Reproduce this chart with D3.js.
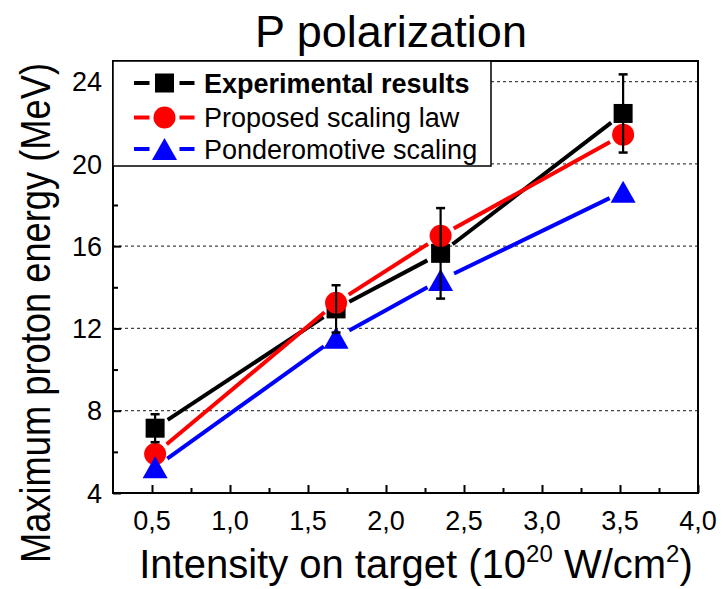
<html>
<head>
<style>
	body { margin: 0; background: #fff; }
	text { font-family: "Liberation Sans", Arial, Helvetica, sans-serif; fill: #000; }
</style>
<script src="https://d3js.org/d3.v7.min.js"></script>
</head>
<body>
<svg id="chart"></svg>
<script>
	var width = 723;
	var height = 589;

	// data
	var intensity = [0.52, 1.68, 2.35, 3.52];
	var experimental = [7.15, 12.95, 15.65, 22.45];
	var experimentalError = [0.68, 1.15, 2.2, 1.9];
	var proposed = [5.9, 13.25, 16.5, 21.42];
	var ponderomotive = [5.25, 11.55, 14.35, 18.65];

	var seriesNames = ["Experimental results", "Proposed scaling law", "Ponderomotive scaling"];
	var xTickValues = [0.5, 1.0, 1.5, 2.0, 2.5, 3.0, 3.5, 4.0];
	var xMinorValues = [0.75, 1.25, 1.75, 2.25, 2.75, 3.25, 3.75];
	var yTickValues = [4, 8, 12, 16, 20, 24];
	var yMinorValues = [6, 10, 14, 18, 22];
	var gridValues = [8, 12, 16, 20, 24];

	var plot = {left: 113, right: 698, top: 61, bottom: 493};
	var gap = 15; // Origin style gap between line and marker

	var x = d3.scaleLinear().domain([0.25, 4.0]).range([plot.left, plot.right]);
	var y = d3.scaleLinear().domain([4, 25]).range([plot.bottom, plot.top]);

	var svg = d3.select("#chart").attr("width", width).attr("height", height);

	// grid
	svg.append("g").selectAll("line")
		.data(gridValues)
		.enter().append("line")
			.attr("x1", plot.left).attr("x2", plot.right)
			.attr("y1", function(d) { return y(d); })
			.attr("y2", function(d) { return y(d); })
			.attr("stroke", "#444")
			.attr("stroke-width", 1.3)
			.attr("stroke-dasharray", "3,3");

	// axes, ticks pointing inward
	var xAxis = d3.axisTop(x).tickValues(xTickValues).tickSize(8).tickFormat("");
	var xMinor = d3.axisTop(x).tickValues(xMinorValues).tickSize(5).tickFormat("");
	var yAxis = d3.axisRight(y).tickValues(yTickValues).tickSize(8).tickFormat("");
	var yMinor = d3.axisRight(y).tickValues(yMinorValues).tickSize(5).tickFormat("");

	[[xAxis, "translate(0," + plot.bottom + ")"], [xMinor, "translate(0," + plot.bottom + ")"],
	 [yAxis, "translate(" + plot.left + ",0)"], [yMinor, "translate(" + plot.left + ",0)"]].forEach(function(a) {
		var g = svg.append("g").attr("transform", a[1]).call(a[0]);
		g.select(".domain").remove();
		g.selectAll("line").attr("stroke", "#000").attr("stroke-width", 2);
	});

	svg.append("rect")
		.attr("x", plot.left).attr("y", plot.top)
		.attr("width", plot.right - plot.left).attr("height", plot.bottom - plot.top)
		.attr("fill", "none").attr("stroke", "#000").attr("stroke-width", 2);

	// tick labels
	svg.append("g").selectAll("text")
		.data(xTickValues)
		.enter().append("text")
			.attr("x", function(d) { return x(d); })
			.attr("y", 530)
			.attr("text-anchor", "middle")
			.style("font-size", "27px")
			.text(function(d) { return d3.format(".1f")(d).replace(".", ","); });

	svg.append("g").selectAll("text")
		.data(yTickValues)
		.enter().append("text")
			.attr("x", 102)
			.attr("y", function(d) { return y(d); })
			.attr("dy", "0.36em")
			.attr("text-anchor", "end")
			.style("font-size", "27px")
			.text(function(d) { return d; });

	// titles
	svg.append("text")
		.attr("x", 391).attr("y", 47)
		.attr("text-anchor", "middle")
		.style("font-size", "45px")
		.text("P polarization");

	var xTitle = svg.append("text")
		.attr("x", 416).attr("y", 578)
		.attr("text-anchor", "middle")
		.style("font-size", "40px");
	xTitle.append("tspan").text("Intensity on target (10");
	xTitle.append("tspan").attr("dy", -16).style("font-size", "24px").text("20");
	xTitle.append("tspan").attr("dy", 16).text(" W/cm");
	xTitle.append("tspan").attr("dy", -16).style("font-size", "24px").text("2");
	xTitle.append("tspan").attr("dy", 16).text(")");

	// condensed like the reference: 42px glyphs squeezed to ~500px long
	svg.append("text")
		.attr("transform", "translate(50,313) rotate(-90) scale(0.864,1)")
		.attr("text-anchor", "middle")
		.style("font-size", "42px")
		.text("Maximum proton energy (MeV)");

	// lines with gaps around markers
	function segments(values) {
		var out = [];
		for (var i = 0; i < values.length - 1; i++) {
			var x1 = x(intensity[i]), y1 = y(values[i]);
			var x2 = x(intensity[i + 1]), y2 = y(values[i + 1]);
			var len = Math.sqrt((x2 - x1) * (x2 - x1) + (y2 - y1) * (y2 - y1));
			var ux = (x2 - x1) / len, uy = (y2 - y1) / len;
			out.push([x1 + ux * gap, y1 + uy * gap, x2 - ux * gap, y2 - uy * gap]);
		}
		return out;
	}

	function drawLine(values, color) {
		svg.append("g").selectAll("line")
			.data(segments(values))
			.enter().append("line")
				.attr("x1", function(d) { return d[0]; })
				.attr("y1", function(d) { return d[1]; })
				.attr("x2", function(d) { return d[2]; })
				.attr("y2", function(d) { return d[3]; })
				.attr("stroke", color)
				.attr("stroke-width", 4);
	}

	drawLine(experimental, "#000");
	drawLine(proposed, "#f00");
	drawLine(ponderomotive, "#00f");

	function square(g, cx, cy) {
		g.append("rect").attr("x", cx - 9.5).attr("y", cy - 9.5).attr("width", 19).attr("height", 19).attr("fill", "#000");
	}
	function circle(g, cx, cy) {
		g.append("circle").attr("cx", cx).attr("cy", cy).attr("r", 11).attr("fill", "#f00");
	}
	function triangle(g, cx, cy) {
		g.append("path")
			.attr("d", "M" + cx + "," + (cy - 11) + "L" + (cx + 12.5) + "," + (cy + 11) + "L" + (cx - 12.5) + "," + (cy + 11) + "Z")
			.attr("fill", "#00f");
	}

	var markers = svg.append("g");
	intensity.forEach(function(d, i) { square(markers, x(d), y(experimental[i])); });
	intensity.forEach(function(d, i) { circle(markers, x(d), y(proposed[i])); });
	intensity.forEach(function(d, i) { triangle(markers, x(d), y(ponderomotive[i])); });

	// error bars
	var bars = svg.append("g").attr("stroke", "#000").attr("stroke-width", 2.2);
	intensity.forEach(function(d, i) {
		var cx = x(d);
		var top = y(experimental[i] + experimentalError[i]);
		var bottom = y(experimental[i] - experimentalError[i]);
		bars.append("line").attr("x1", cx).attr("x2", cx).attr("y1", top).attr("y2", bottom);
		bars.append("line").attr("x1", cx - 4.5).attr("x2", cx + 4.5).attr("y1", top).attr("y2", top).attr("stroke-width", 2.5);
		bars.append("line").attr("x1", cx - 4.5).attr("x2", cx + 4.5).attr("y1", bottom).attr("y2", bottom).attr("stroke-width", 2.5);
	});

	// legend
	var legend = svg.append("g");
	legend.append("rect")
		.attr("x", plot.left).attr("y", plot.top)
		.attr("width", 378).attr("height", 105)
		.attr("fill", "#fff").attr("stroke", "#000").attr("stroke-width", 1.5);

	var legendColors = ["#000", "#f00", "#00f"];
	var legendRows = [83, 117.5, 149];
	var legendMarkers = [square, circle, triangle];
	seriesNames.forEach(function(name, i) {
		var ly = legendRows[i];
		legend.append("line").attr("x1", 134).attr("x2", 149.5).attr("y1", ly).attr("y2", ly)
			.attr("stroke", legendColors[i]).attr("stroke-width", 4);
		legend.append("line").attr("x1", 179.5).attr("x2", 194.5).attr("y1", ly).attr("y2", ly)
			.attr("stroke", legendColors[i]).attr("stroke-width", 4);
		legendMarkers[i](legend, 164.5, ly);
		legend.append("text")
			.attr("x", 204).attr("y", ly).attr("dy", "0.36em")
			.style("font-size", "27px")
			.style("font-weight", i === 0 ? "bold" : "normal")
			.text(name);
	});
</script>
</body>
</html>
